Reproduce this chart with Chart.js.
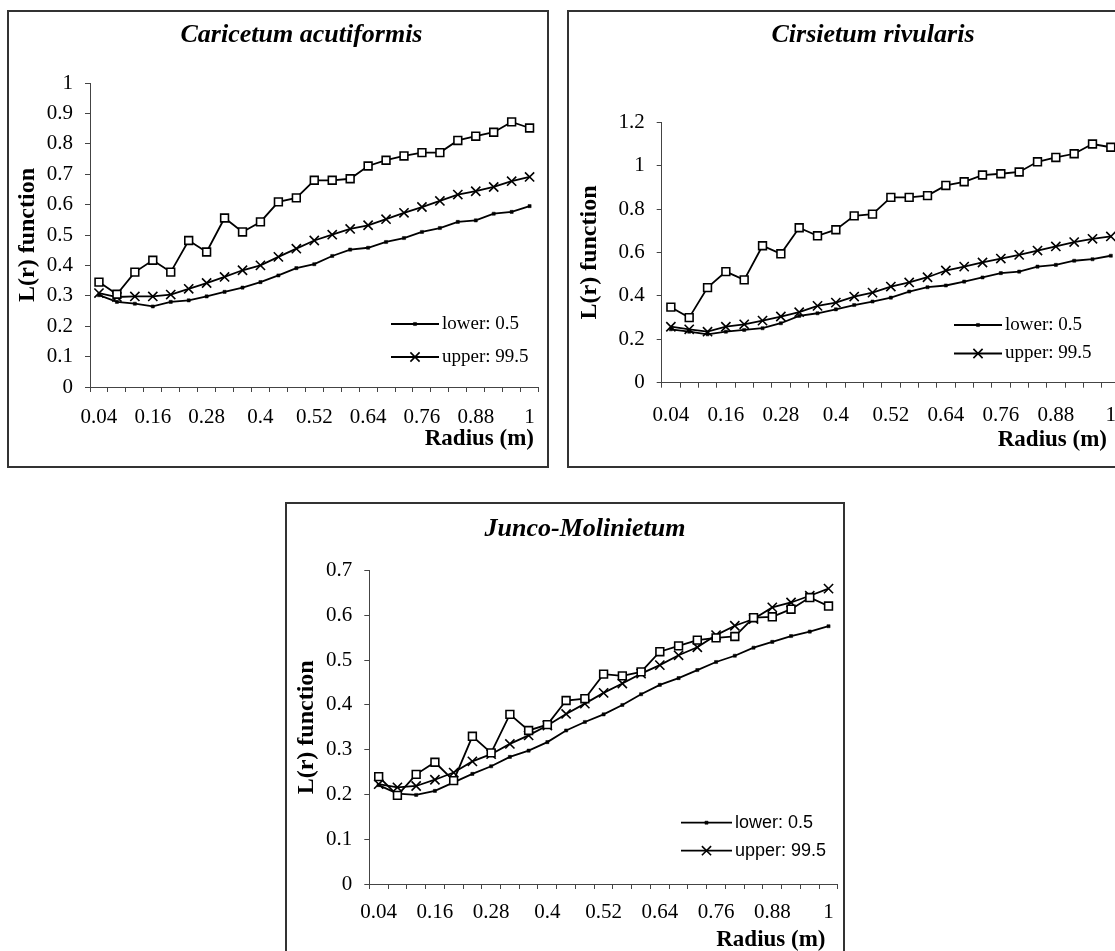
<!DOCTYPE html>
<html>
<head>
<meta charset="utf-8">
<script src="https://cdn.jsdelivr.net/npm/chart.js@4.4.1/dist/chart.umd.min.js"></script>
<style>
  html, body { margin: 0; padding: 0; background: #fff; overflow: hidden; width: 1115px; height: 951px; }
  canvas { position: absolute; }
  .box { position: absolute; border: 2px solid #333; box-sizing: border-box; pointer-events: none; }
</style>
</head>
<body>
<canvas id="c1" width="540" height="456" style="left:8px;top:11px;width:540px;height:456px"></canvas>
<canvas id="c2" width="580" height="456" style="left:568px;top:11px;width:580px;height:456px"></canvas>
<canvas id="c3" width="560" height="466" style="left:286px;top:503px;width:560px;height:466px"></canvas>
<div class="box" style="left:7px;top:10px;width:542px;height:458px"></div>
<div class="box" style="left:567px;top:10px;width:590px;height:458px"></div>
<div class="box" style="left:285px;top:502px;width:560px;height:470px"></div>
<script>
// ---------- DATA ----------
const radius = ['0.04','0.08','0.12','0.16','0.2','0.24','0.28','0.32','0.36','0.4','0.44','0.48','0.52',
                '0.56','0.6','0.64','0.68','0.72','0.76','0.8','0.84','0.88','0.92','0.96','1'];
const xTickLabels = ['0.04','0.16','0.28','0.4','0.52','0.64','0.76','0.88','1'];

const title1 = 'Caricetum acutiformis';
const title2 = 'Cirsietum rivularis';
const title3 = 'Junco-Molinietum';
const yTitle = 'L(r) function';
const xTitle = 'Radius (m)';
const lowerLabel = 'lower: 0.5';
const upperLabel = 'upper: 99.5';

const yTicks1 = [0, 0.1, 0.2, 0.3, 0.4, 0.5, 0.6, 0.7, 0.8, 0.9, 1];
const yTicks2 = [0, 0.2, 0.4, 0.6, 0.8, 1, 1.2];
const yTicks3 = [0, 0.1, 0.2, 0.3, 0.4, 0.5, 0.6, 0.7];

const observed1 = [0.345,0.305,0.378,0.417,0.378,0.482,0.444,0.556,0.510,0.543,0.609,0.622,0.680,
                   0.680,0.685,0.727,0.746,0.760,0.771,0.771,0.811,0.825,0.838,0.872,0.852];
const upper1    = [0.309,0.296,0.298,0.298,0.304,0.323,0.342,0.362,0.384,0.400,0.428,0.455,0.482,
                   0.501,0.520,0.532,0.552,0.573,0.592,0.612,0.633,0.644,0.658,0.677,0.691];
const lower1    = [0.302,0.280,0.274,0.265,0.280,0.285,0.298,0.313,0.327,0.345,0.367,0.391,0.404,
                   0.431,0.452,0.458,0.477,0.490,0.510,0.523,0.543,0.548,0.570,0.576,0.595];

const observed2 = [0.348,0.300,0.438,0.512,0.474,0.631,0.594,0.714,0.677,0.705,0.769,0.777,0.854,
                   0.854,0.862,0.909,0.926,0.957,0.963,0.971,1.018,1.038,1.055,1.100,1.085];
const upper2    = [0.258,0.246,0.235,0.258,0.269,0.286,0.305,0.325,0.354,0.369,0.397,0.415,0.443,
                   0.462,0.486,0.517,0.535,0.554,0.572,0.589,0.609,0.628,0.648,0.663,0.674];
const lower2    = [0.246,0.235,0.223,0.235,0.243,0.251,0.274,0.308,0.320,0.338,0.358,0.374,0.392,
                   0.420,0.440,0.448,0.466,0.485,0.505,0.512,0.535,0.543,0.562,0.569,0.585];

const observed3 = [0.240,0.198,0.245,0.272,0.231,0.330,0.293,0.379,0.343,0.356,0.410,0.414,0.469,
                   0.465,0.474,0.519,0.532,0.545,0.550,0.553,0.595,0.597,0.614,0.640,0.621];
const upper3    = [0.223,0.216,0.219,0.233,0.249,0.274,0.290,0.313,0.332,0.354,0.380,0.403,0.427,
                   0.448,0.470,0.489,0.511,0.529,0.556,0.577,0.592,0.618,0.629,0.644,0.660];
const lower3    = [0.221,0.202,0.199,0.208,0.227,0.246,0.263,0.284,0.298,0.317,0.343,0.362,0.379,
                   0.400,0.424,0.445,0.460,0.478,0.496,0.510,0.528,0.541,0.554,0.564,0.576];

// ---------- DRAWING ----------
const SERIF = '"Liberation Serif", "Times New Roman", serif';
const SANS = '"Liberation Sans", Arial, sans-serif';

const decor = {
  id: 'decor',
  afterDraw(chart, args, o) {
    const ctx = chart.ctx;
    ctx.save();
    ctx.fillStyle = '#000';
    ctx.textBaseline = 'alphabetic';
    ctx.font = 'italic bold 26px ' + SERIF;
    ctx.textAlign = 'center';
    ctx.fillText(o.title, o.titleX, o.titleY);
    ctx.font = 'bold 23px ' + SERIF;
    ctx.textAlign = 'right';
    ctx.fillText(xTitle, o.xTitleX, o.xTitleY);
    ctx.font = o.legendFont;
    ctx.textAlign = 'left';
    ctx.textBaseline = 'middle';
    [1, 2].forEach((di, i) => {
      const ds = chart.data.datasets[di];
      const y = o.legendY + i * o.legendGap;
      ctx.strokeStyle = '#000';
      ctx.lineWidth = ds.borderWidth;
      ctx.beginPath();
      ctx.moveTo(o.legendX, y);
      ctx.lineTo(o.legendX + o.legendLen, y);
      ctx.stroke();
      ctx.fillStyle = ds.pointBackgroundColor;
      ctx.strokeStyle = ds.pointBorderColor;
      ctx.lineWidth = ds.pointBorderWidth;
      Chart.helpers.drawPoint(ctx, {pointStyle: ds.pointStyle, radius: ds.pointRadius, rotation: 0,
                                    borderWidth: ds.pointBorderWidth}, o.legendX + o.legendLen / 2, y);
      ctx.fillStyle = '#000';
      ctx.fillText(ds.label, o.legendX + o.legendLen + 3, y);
    });
    ctx.restore();
  }
};

function makeChart(id, obs, low, up, yTicks, yMax, L) {
  new Chart(document.getElementById(id), {
    type: 'line',
    data: {
      labels: radius,
      datasets: [
        { label: 'observed', data: obs, borderColor: '#000', borderWidth: 1.8,
          pointStyle: 'rect', pointRadius: 5.5, pointBackgroundColor: '#fff',
          pointBorderColor: '#000', pointBorderWidth: 1.6 },
        { label: lowerLabel, data: low, borderColor: '#000', borderWidth: 1.8,
          pointStyle: 'rect', pointRadius: 2.2, pointBackgroundColor: '#000',
          pointBorderColor: '#000', pointBorderWidth: 0.5 },
        { label: upperLabel, data: up, borderColor: '#000', borderWidth: 1.8,
          pointStyle: 'crossRot', pointRadius: 6.5, pointBackgroundColor: '#000',
          pointBorderColor: '#000', pointBorderWidth: 1.6 }
      ]
    },
    options: {
      responsive: false,
      animation: false,
      devicePixelRatio: 1,
      layout: { padding: { left: L.padL, top: L.padT, right: L.padR, bottom: L.padB } },
      elements: { line: { tension: 0 } },
      scales: {
        x: {
          type: 'category',
          offset: true,
          grid: { offset: true, drawOnChartArea: false, drawTicks: true, tickLength: 5, color: '#444', lineWidth: 1 },
          border: { color: '#444', width: 1 },
          ticks: {
            autoSkip: false, maxRotation: 0, minRotation: 0, color: '#000',
            padding: L.xPad,
            font: { family: SERIF, size: 21 },
            callback: function (value, index) {
              const l = radius[index];
              return xTickLabels.includes(l) ? l : '';
            }
          },
          afterFit: (s) => { s.height = L.xH; }
        },
        y: {
          min: 0, max: yMax,
          grid: { drawOnChartArea: false, drawTicks: true, tickLength: 5, color: '#444', lineWidth: 1 },
          border: { color: '#444', width: 1 },
          afterBuildTicks: (s) => { s.ticks = yTicks.map(v => ({ value: v })); },
          ticks: { color: '#000', padding: 12, font: { family: SERIF, size: 21 },
                   callback: (v) => String(v) },
          title: { display: true, text: yTitle, color: '#000', padding: 0,
                   font: { family: SERIF, size: 24, weight: 'bold' } },
          afterFit: (s) => { s.width = L.yW; }
        }
      },
      plugins: {
        legend: { display: false },
        tooltip: { enabled: false },
        decor: L.decor
      }
    },
    plugins: [decor]
  });
}

// y-title centre = padL + 14.4 (half line height of 24px bold title)
makeChart('c1', observed1, lower1, upper1, yTicks1, 1, {
  padL: 5.6, padT: 72, padR: 1.5, padB: 20, yW: 76.4, xH: 60, xPad: 13,
  decor: { title: title1, titleX: 293.5, titleY: 31, xTitleX: 526, xTitleY: 434,
           legendX: 383, legendY: 313, legendGap: 33, legendLen: 48, legendFont: '19px ' + SERIF }
});
makeChart('c2', observed2, lower2, upper2, yTicks2, 1.2, {
  padL: 7.6, padT: 111.3, padR: 28, padB: 24.3, yW: 86.1, xH: 60, xPad: 15,
  decor: { title: title2, titleX: 305, titleY: 31, xTitleX: 539, xTitleY: 435,
           legendX: 386, legendY: 314, legendGap: 28.5, legendLen: 48, legendFont: '19px ' + SERIF }
});
makeChart('c3', observed3, lower3, upper3, yTicks3, 0.7, {
  padL: 6.2, padT: 67.7, padR: 3.5, padB: 25, yW: 77.1, xH: 60, xPad: 11,
  decor: { title: title3, titleX: 299, titleY: 33, xTitleX: 539.5, xTitleY: 443,
           legendX: 395, legendY: 319.7, legendGap: 28, legendLen: 51, legendFont: '18px ' + SANS }
});
</script>
</body>
</html>
